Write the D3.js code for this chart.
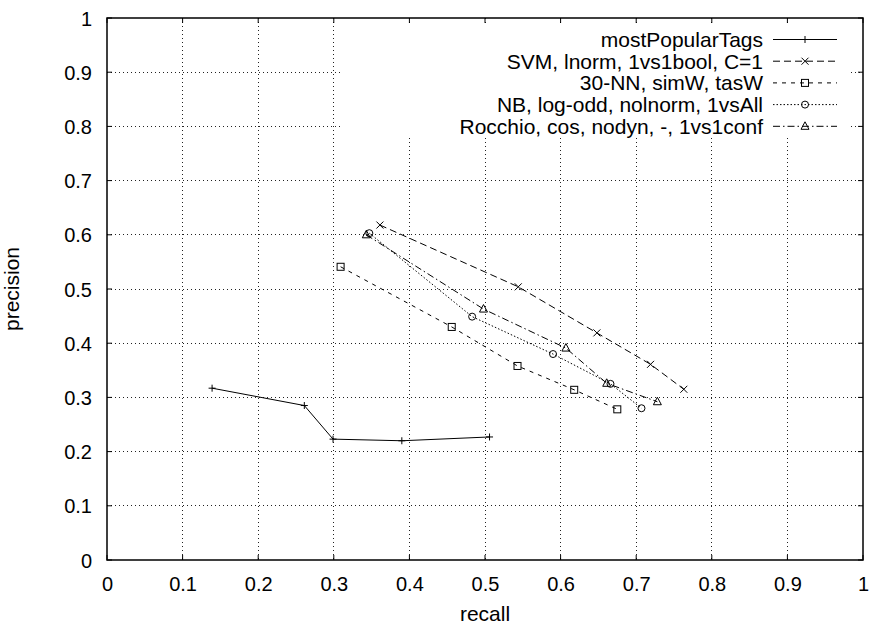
<!DOCTYPE html>
<html><head><meta charset="utf-8">
<script src="https://cdn.jsdelivr.net/npm/d3@7"></script>
<style>body{margin:0;background:#fff}text{font-family:"Liberation Sans",Arial,sans-serif;fill:#000}</style>
</head><body><svg id="c" width="870" height="624"></svg>
<script>
const seriesNames = ["mostPopularTags","SVM, lnorm, 1vs1bool, C=1","30-NN, simW, tasW","NB, log-odd, nolnorm, 1vsAll","Rocchio, cos, nodyn, -, 1vs1conf"];
const mptRecall = [0.139,0.261,0.299,0.390,0.506];
const mptPrecision = [0.317,0.285,0.223,0.220,0.227];
const svmRecall = [0.361,0.544,0.648,0.719,0.763];
const svmPrecision = [0.618,0.504,0.419,0.361,0.315];
const nnRecall = [0.309,0.456,0.543,0.618,0.675];
const nnPrecision = [0.541,0.430,0.358,0.314,0.278];
const nbRecall = [0.347,0.483,0.590,0.666,0.707];
const nbPrecision = [0.603,0.449,0.380,0.325,0.280];
const rocRecall = [0.343,0.498,0.607,0.661,0.728];
const rocPrecision = [0.600,0.463,0.391,0.326,0.292];
const ticks = [0,0.1,0.2,0.3,0.4,0.5,0.6,0.7,0.8,0.9,1];

const series = [
 {name:seriesNames[0], r:mptRecall, p:mptPrecision, dash:null, mk:"plus"},
 {name:seriesNames[1], r:svmRecall, p:svmPrecision, dash:"7,4", mk:"cross"},
 {name:seriesNames[2], r:nnRecall, p:nnPrecision, dash:"4,5", mk:"square"},
 {name:seriesNames[3], r:nbRecall, p:nbPrecision, dash:"1.5,2", mk:"circle"},
 {name:seriesNames[4], r:rocRecall, p:rocPrecision, dash:"7,3,1.5,3", mk:"triangle"}
];

const L=107,R=863,T=18,B=560;
const svg=d3.select("#c");
const x=d3.scaleLinear().domain([0,1]).range([L,R]);
const y=d3.scaleLinear().domain([0,1]).range([B,T]);

// grid
const g=svg.append("g");
g.selectAll(".gx").data(ticks.slice(1,-1)).join("line")
 .attr("x1",d=>x(d)).attr("x2",d=>x(d)).attr("y1",T).attr("y2",B)
 .attr("stroke","#222").attr("stroke-width",1).attr("stroke-dasharray","1,3").attr("shape-rendering","crispEdges");
g.selectAll(".gy").data(ticks.slice(1,-1)).join("line")
 .attr("y1",d=>y(d)).attr("y2",d=>y(d)).attr("x1",L).attr("x2",R)
 .attr("stroke","#222").attr("stroke-width",1).attr("stroke-dasharray","1,3").attr("shape-rendering","crispEdges");

// axes
const xa=svg.append("g").attr("transform",`translate(0,${B})`).call(d3.axisBottom(x).tickValues(ticks).tickFormat(d3.format("")).tickSize(0).tickPadding(14));
const ya=svg.append("g").attr("transform",`translate(${L},0)`).call(d3.axisLeft(y).tickValues(ticks).tickFormat(d3.format("")).tickSize(0).tickPadding(15));
[xa,ya].forEach(a=>{a.select(".domain").remove();a.selectAll("text").style("font-size","20px").style("font-family","'Liberation Sans',Arial,sans-serif");});
xa.selectAll("text").attr("dy","0.85em");
ya.selectAll("text").attr("dy","0.35em");

// tick marks (inward, mirrored)
const tk=svg.append("g").attr("stroke","#000").attr("stroke-width",1);
ticks.forEach(t=>{
  tk.append("line").attr("x1",x(t)).attr("x2",x(t)).attr("y1",B).attr("y2",B-5);
  tk.append("line").attr("x1",x(t)).attr("x2",x(t)).attr("y1",T).attr("y2",T+5);
  tk.append("line").attr("y1",y(t)).attr("y2",y(t)).attr("x1",L).attr("x2",L+5);
  tk.append("line").attr("y1",y(t)).attr("y2",y(t)).attr("x1",R).attr("x2",R-5);
});

// legend background
svg.append("rect").attr("x",343).attr("y",26).attr("width",507).attr("height",111).attr("fill","#fff");

function marker(sel,type,cx,cy){
  const s=3.5;
  if(type==="plus"){sel.append("path").attr("d",`M${cx-s},${cy}H${cx+s}M${cx},${cy-s}V${cy+s}`).attr("stroke","#000").attr("fill","none");}
  else if(type==="cross"){sel.append("path").attr("d",`M${cx-s},${cy-s}L${cx+s},${cy+s}M${cx-s},${cy+s}L${cx+s},${cy-s}`).attr("stroke","#000").attr("fill","none");}
  else if(type==="square"){sel.append("rect").attr("x",cx-s).attr("y",cy-s).attr("width",2*s).attr("height",2*s).attr("stroke","#000").attr("fill","none");}
  else if(type==="circle"){sel.append("circle").attr("cx",cx).attr("cy",cy).attr("r",s).attr("stroke","#000").attr("fill","none");}
  else if(type==="triangle"){sel.append("path").attr("d",`M${cx},${cy-4.5}L${cx+4},${cy+3}L${cx-4},${cy+3}Z`).attr("stroke","#000").attr("fill","none");}
}

const line=d3.line().x(d=>x(d[0])).y(d=>y(d[1]));
series.forEach(s=>{
  const pts=s.r.map((v,i)=>[v,s.p[i]]);
  const sg=svg.append("g");
  sg.append("path").attr("d",line(pts)).attr("fill","none").attr("stroke","#000").attr("stroke-width",1)
    .attr("stroke-dasharray",s.dash);
  pts.forEach(p=>marker(sg,s.mk,x(p[0]),y(p[1])));
});

// legend
const lg=svg.append("g");
series.forEach((s,i)=>{
  const yy=39.5+i*21.7;
  lg.append("text").attr("x",763).attr("y",yy).attr("dy","0.35em").attr("text-anchor","end").style("font-size","21px").text(s.name);
  lg.append("line").attr("x1",773).attr("x2",837).attr("y1",yy).attr("y2",yy).attr("stroke","#000").attr("stroke-dasharray",s.dash);
  marker(lg,s.mk,805,yy);
});

// border
svg.append("rect").attr("x",L).attr("y",T).attr("width",R-L).attr("height",B-T).attr("fill","none").attr("stroke","#000").attr("stroke-width",1.5);

// axis titles
svg.append("text").attr("x",(L+R)/2).attr("y",621).attr("text-anchor","middle").style("font-size","21px").text("recall");
svg.append("text").attr("transform",`translate(19,${(T+B)/2}) rotate(-90)`).attr("text-anchor","middle").style("font-size","21px").text("precision");
</script></body></html>
